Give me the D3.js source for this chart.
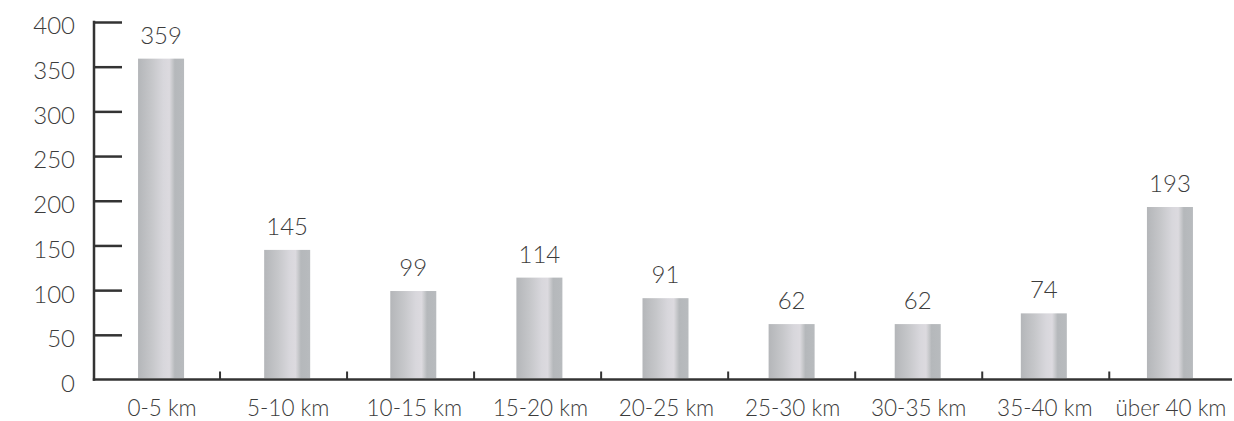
<!DOCTYPE html>
<html><head><meta charset="utf-8">
<script src="https://cdn.jsdelivr.net/npm/d3@7"></script>
<style>
html,body{margin:0;padding:0;background:#fff;}
text{font-family:Lato,"Open Sans",sans-serif;font-weight:300;fill:#3c3c3c;}
</style></head>
<body><svg id="c" width="1234" height="421"></svg>
<script>
const categories = ["0-5 km","5-10 km","10-15 km","15-20 km","20-25 km","25-30 km","30-35 km","35-40 km","über 40 km"];
const values = [359,145,99,114,91,62,62,74,193];
const yTicks = [0,50,100,150,200,250,300,350,400];

const svg = d3.select("#c");
const x0 = 94, yBase = 379.5, yTop = 22;
const xBar = d3.scaleBand().domain(categories).range([98, 1233]);   // bar/label slots
const xTick = d3.scaleBand().domain(categories).range([93, 1236.3]); // tick boundaries
const y = d3.scaleLinear().domain([0,400]).range([yBase, yTop]);
const barW = 46;

const defs = svg.append("defs");
const g = defs.append("linearGradient").attr("id","bg").attr("x1","0").attr("x2","1").attr("y1","0").attr("y2","0");
[[0,"#b4b6b9"],[0.3,"#c6c7ca"],[0.55,"#d8d7dc"],[0.68,"#dcdadf"],[0.74,"#c9cacd"],[0.8,"#b5b8bb"],[1,"#b8bbbe"]]
  .forEach(([o,c])=>g.append("stop").attr("offset",o).attr("stop-color",c));

const cx = c => xBar(c) + xBar.bandwidth()/2;

// bars
svg.append("g").selectAll("rect").data(values).join("rect")
  .attr("x",(d,i)=>cx(categories[i]) - barW/2)
  .attr("width",barW)
  .attr("y",d=>y(d))
  .attr("height",d=>yBase-1.5-y(d))
  .attr("fill","url(#bg)");

// value labels
svg.append("g").selectAll("text").data(values).join("text")
  .attr("x",(d,i)=>cx(categories[i]))
  .attr("y",d=>y(d)-15)
  .attr("text-anchor","middle")
  .attr("font-size",24)
  .text(d=>d);

// y axis
const yAxis = d3.axisRight(y).tickValues(yTicks).tickSize(28).tickFormat("");
const ya = svg.append("g").attr("transform",`translate(${x0},0)`).call(yAxis);
ya.select(".domain").remove();
ya.selectAll(".tick line").attr("stroke","#333").attr("stroke-width",2.5);
ya.selectAll(".tick").filter(d=>d===0).remove();
svg.append("line").attr("x1",x0).attr("x2",x0).attr("y1",yTop-1.2).attr("y2",yBase+1.2).attr("stroke","#333").attr("stroke-width",2.5);
svg.append("g").selectAll("text").data(yTicks).join("text")
  .attr("x",75).attr("y",d=>y(d)+4).attr("dy","0.35em")
  .attr("text-anchor","end").attr("font-size",24).text(d=>d);

// x axis
svg.append("line").attr("x1",x0-1.2).attr("x2",1232).attr("y1",yBase).attr("y2",yBase).attr("stroke","#333").attr("stroke-width",2.5);
const boundaries = categories.slice(1).map(c=>xTick(c));
svg.append("g").selectAll("line").data(boundaries).join("line")
  .attr("x1",d=>d).attr("x2",d=>d).attr("y1",yBase).attr("y2",yBase-8)
  .attr("stroke","#333").attr("stroke-width",2);
svg.append("g").selectAll("text").data(categories).join("text")
  .attr("x",d=>cx(d)+1)
  .attr("y",408).attr("dy","0.35em")
  .attr("text-anchor","middle").attr("font-size",22.5).text(d=>d);
</script></body></html>
